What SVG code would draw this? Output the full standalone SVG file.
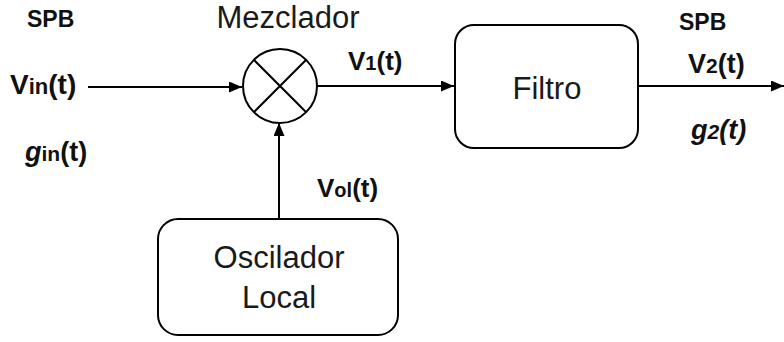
<svg xmlns="http://www.w3.org/2000/svg" width="784" height="342" viewBox="0 0 784 342">
<defs>
<style>
.box{fill:#fff;stroke:#000;stroke-width:2}
.ln{fill:none;stroke:#000;stroke-width:2}
.lbl{font-family:"Liberation Sans",Arial,sans-serif;font-size:31px;fill:#1a1a1a}
.b{font-family:"Liberation Sans",Arial,sans-serif;font-weight:bold;fill:#111}
.sub{font-size:20px}
</style>
<marker id="ah" markerUnits="userSpaceOnUse" markerWidth="13" markerHeight="11" refX="13" refY="5.5" orient="auto">
<path d="M0,0 L13,5.5 L0,11 z" fill="#000"/>
</marker>
</defs>
<rect width="784" height="342" fill="#fff"/>
<g id="connectors">
<line class="ln" x1="88" y1="87" x2="242" y2="87" marker-end="url(#ah)"/>
<line class="ln" x1="317" y1="86" x2="454" y2="86" marker-end="url(#ah)"/>
<line class="ln" x1="638" y1="86" x2="784" y2="86" marker-end="url(#ah)"/>
<line class="ln" x1="279" y1="219" x2="279" y2="123" marker-end="url(#ah)"/>
</g>
<g id="mezclador">
<circle class="ln" cx="280" cy="86" r="37"/>
<line class="ln" x1="253.8" y1="59.8" x2="306.2" y2="112.2"/>
<line class="ln" x1="306.2" y1="59.8" x2="253.8" y2="112.2"/>
<text class="lbl" x="288" y="28" text-anchor="middle">Mezclador</text>
</g>
<g id="filtro">
<rect class="box" x="455" y="25" width="183" height="123" rx="19"/>
<text class="lbl" x="547" y="99" text-anchor="middle">Filtro</text>
</g>
<g id="oscilador">
<rect class="box" x="158" y="219" width="240" height="116" rx="20"/>
<text class="lbl" x="279" y="268" text-anchor="middle">Oscilador</text>
<text class="lbl" x="279" y="308" text-anchor="middle">Local</text>
</g>
<g id="labels">
<text class="b" x="27" y="27" font-size="23">SPB</text>
<text class="b" x="10" y="94" font-size="28">V<tspan font-size="22">in</tspan>(t)</text>
<text class="b" x="25" y="161" font-size="27"><tspan font-style="italic">g</tspan><tspan font-size="21">in</tspan>(t)</text>
<text class="b" x="348" y="70" font-size="26">V<tspan class="sub">1</tspan>(t)</text>
<text class="b" x="317" y="197" font-size="26">V<tspan class="sub">ol</tspan>(t)</text>
<text class="b" x="679" y="30" font-size="23">SPB</text>
<text class="b" x="688" y="73" font-size="27">V<tspan font-size="21">2</tspan>(t)</text>
<text class="b" x="691" y="139" font-size="27" font-style="italic">g<tspan font-size="21">2</tspan>(t)</text>
</g>
</svg>
